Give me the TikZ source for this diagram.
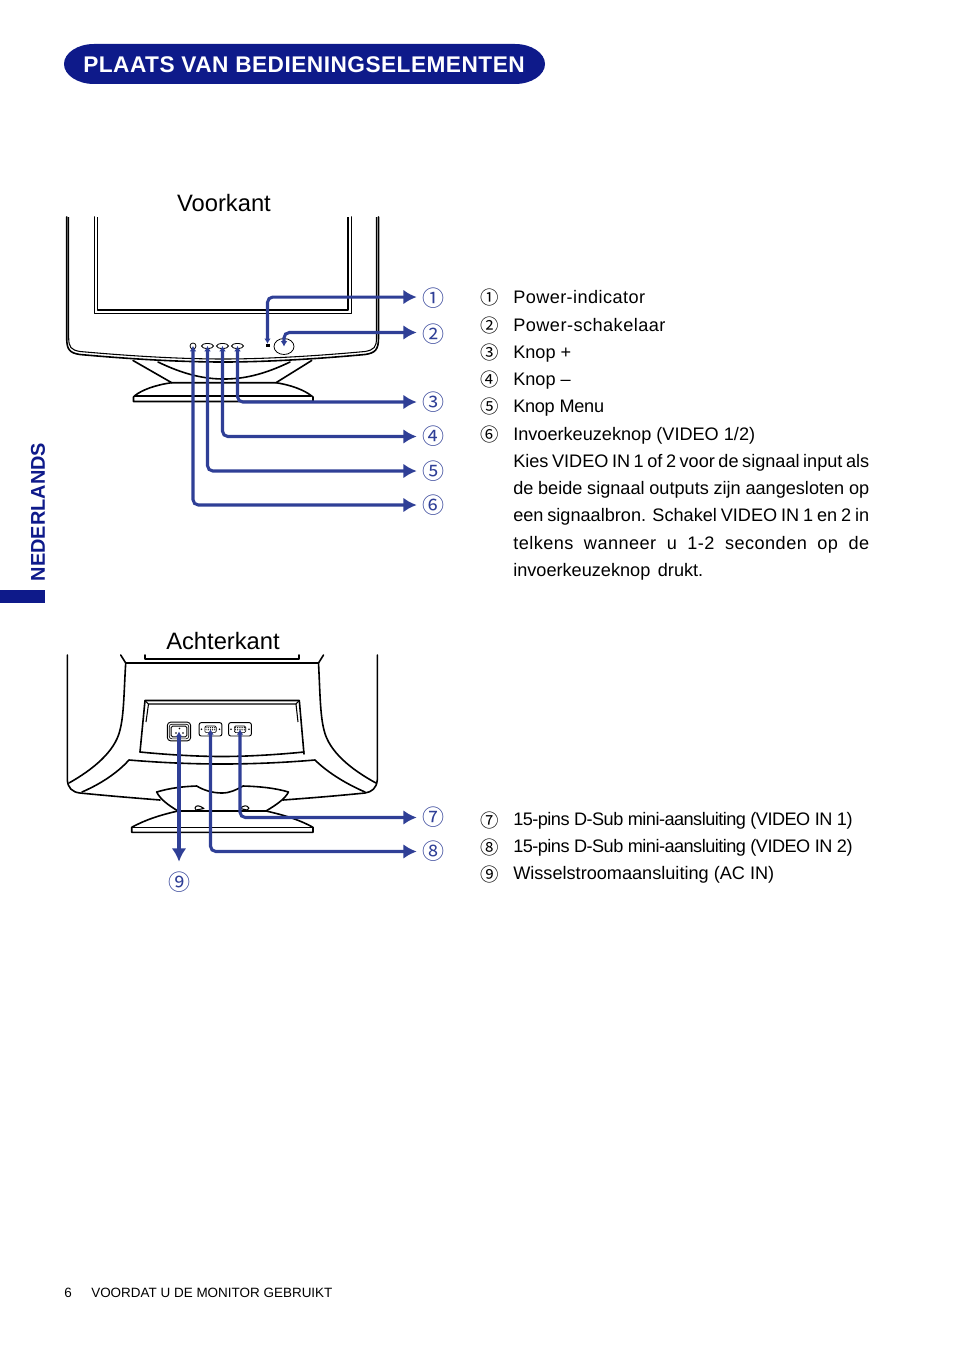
\documentclass[tikz,border=0pt]{standalone}
\usepackage{fontspec}
\setmainfont{Liberation Sans}
\newfontfamily\circfont{Noto Sans CJK SC}
\usetikzlibrary{arrows.meta,shapes.geometric}
\definecolor{navy}{HTML}{0E1A8A}
\definecolor{conn}{HTML}{2F3F96}
\newcommand{\bodyfont}{\fontsize{13.6pt}{16pt}\selectfont}
\newcommand{\circnum}{\fontsize{13.8pt}{16pt}\selectfont\circfont}
\newcommand{\spaced}[2]{{\addfontfeature{LetterSpace=#1}#2}}
\newcommand{\dn}[1]{\raisebox{-0.8pt}{#1}}
\tikzset{
  x=0.75pt,y=-0.75pt,
  mono/.style={draw=black,line width=1.2pt,line join=round,line cap=round},
  thin mono/.style={draw=black,line width=0.8pt,line join=round},
  connector/.style={draw=conn,line width=2.3pt,rounded corners=4pt,
    {Latex[length=4pt,width=5pt]}-{Latex[length=10pt,width=11pt]}},
  numlabel/.style={inner sep=0pt,minimum width=24pt,minimum height=30pt,text=conn,font=\fontsize{16.5pt}{17pt}\selectfont\circfont},
  itemnum/.style={inner sep=0pt,anchor=center,font=\circnum},
  itemtext/.style={inner sep=0pt,anchor=base west,font=\bodyfont},
  heading/.style={inner sep=0pt,font=\fontsize{17.8pt}{20pt}\selectfont},
  btn/.style={draw=black,line width=0.6pt,ellipse,inner sep=0pt},
  pin/.style={fill=black,circle,inner sep=0pt,minimum size=1.3pt},
}
\begin{document}
\begin{tikzpicture}
\useasboundingbox (0,0) rectangle (954,1352);
% title
\fill[navy] (94,44) -- (515,44) .. controls (531.5,44) and (545,53) .. (545,64) .. controls (545,75) and (531.5,84) .. (515,84) -- (94,84) .. controls (77.5,84) and (64,75) .. (64,64) .. controls (64,53) and (77.5,44) .. (94,44) -- cycle;
\node[text=white,inner sep=0pt,font=\fontsize{17pt}{20pt}\selectfont\bfseries] (titletext) at (304,65) {\spaced{2.1}{PLAATS VAN BEDIENINGSELEMENTEN}};
% side tab
\fill[navy] (0,590) rectangle (45,603);
\node[rotate=90,text=navy,inner sep=0pt,font=\fontsize{14.95pt}{16pt}\selectfont\bfseries] (side) at (38,512) {NEDERLANDS};
% headings
\node[heading] (front) at (224,203) {Voorkant};
\node[heading] (back) at (223,641) {Achterkant};
% ---- front monitor
\draw[mono] (66.7,217) -- (66.7,338) .. controls (66.7,350) and (70,353) .. (80,354.5) .. controls (130,359) and (180,362) .. (223,362) .. controls (266,362) and (316,359) .. (365,354.5) .. controls (375,353) and (378.5,350) .. (378.5,338) -- (378.5,217);
\draw[thin mono] (68.7,217) -- (68.7,338) .. controls (68.7,347) and (71,350) .. (80,351.5) .. controls (130,356) and (180,359) .. (223,359) .. controls (266,359) and (316,356) .. (365,351.5) .. controls (374,350) and (376.5,347) .. (376.5,338) -- (376.5,217);
\draw[mono] (94.5,217) -- (94.5,313.5) -- (351.5,313.5) -- (351.5,217);
\draw[thin mono] (97.7,217) -- (97.7,310) -- (348,310) -- (348,217);
% front stand
\draw[mono] (133,360.5) -- (171.7,382.7) -- (276,382.7) -- (311.7,360.5);
\draw[mono] (158,362) .. controls (185,375) and (205,379) .. (224,379) .. controls (243,379) and (263,375) .. (290,362);
\draw[mono] (171.7,382.7) .. controls (155,385) and (142,390) .. (135,395.5) -- (133.5,397) -- (133.5,401.5) -- (313,401.5) -- (313,397) -- (311,395.5) .. controls (304,390) and (291,385) .. (276,382.7);
\draw[thin mono] (135,396) -- (311,396);
% front controls
\node[btn,circle,minimum size=4.5pt] (b6) at (193,346) {};
\node[btn,minimum width=9pt,minimum height=3.8pt] (b5) at (207.5,346) {};
\node[btn,minimum width=9pt,minimum height=3.8pt] (b4) at (222.5,346) {};
\node[btn,minimum width=9pt,minimum height=3.8pt] (b3) at (237.5,346) {};
\node[fill=black,inner sep=0pt,minimum width=3pt,minimum height=1.8pt] (led) at (267.5,345.3) {};
\node[btn,minimum width=15pt,minimum height=12pt] (pow) at (284,346.5) {};
% labels
\node[numlabel] (l1) at (433,298.5) {\dn{①}};
\node[numlabel] (l2) at (433,334.5) {\dn{②}};
\node[numlabel] (l3) at (433,402) {\dn{③}};
\node[numlabel] (l4) at (433,436.5) {\dn{④}};
\node[numlabel] (l5) at (433,471) {\dn{⑤}};
\node[numlabel] (l6) at (433,505) {\dn{⑥}};
\node[numlabel] (l7) at (433,817.5) {\dn{⑦}};
\node[numlabel] (l8) at (433,851.5) {\dn{⑧}};
\node[numlabel] (l9) at (179,882) {\dn{⑨}};
% front connectors
\draw[connector] (led.north) |- ([yshift=1.1pt]l1.west);
\draw[connector] (pow.center) |- ([yshift=1.5pt]l2.west);
\draw[connector] (b3.center) |- (l3.west);
\draw[connector] (b4.center) |- (l4.west);
\draw[connector] (b5.center) |- (l5.west);
\draw[connector] (b6.center) |- (l6.west);
% ---- back monitor
\draw[mono] (67.3,655) -- (67.3,780) .. controls (68,788) and (72,792) .. (80,793) .. controls (110,796) and (135,798) .. (160,800);
\draw[mono] (377.3,655) -- (377.3,780) .. controls (376.5,788) and (372,792) .. (365,793) .. controls (335,796) and (310,798) .. (283,800);
\draw[mono] (120.7,655) -- (125.7,663) .. controls (124,690) and (124,715) .. (120,730) .. controls (115,752) and (92,770) .. (69,783);
\draw[mono] (323.5,655) -- (318.5,663) .. controls (320,690) and (320,715) .. (324,730) .. controls (329,752) and (352,770) .. (376,783);
\draw[thin mono] (125.7,663) -- (318.5,663);
\draw[mono] (145,655) -- (145,659) -- (299,659) -- (299,655);
% back panel
\draw[mono] (140,752) -- (145,700.5) -- (299.3,700.5) -- (304,754);
\draw[thin mono] (145,700.5) -- (148.5,704) -- (296,704) -- (299.3,700.5);
\draw[thin mono] (148.5,704) -- (146,722);
\draw[thin mono] (296,704) -- (298,722);
\draw[mono] (140,752) .. controls (170,755) and (200,756.5) .. (222,756.5) .. controls (244,756.5) and (274,755) .. (304,752);
\draw[mono] (82,792) .. controls (105,782) and (120,770) .. (129,760) .. controls (165,763) and (195,764) .. (222,764) .. controls (249,764) and (279,763) .. (315,760) .. controls (325,770) and (342,782) .. (365,792);
% back stand
\draw[mono] (178,811) .. controls (168,805) and (160,799) .. (156.7,792) .. controls (170,788) and (183,786.5) .. (196.7,786) .. controls (205,791) and (214,793) .. (222,793) .. controls (230,793) and (236,790) .. (243,786) .. controls (260,786.5) and (275,788) .. (288.5,792) .. controls (285,799) and (276,805) .. (266,811);
\draw[mono] (178,811) -- (266,811);
\draw[thin mono] (195,808) .. controls (196,805) and (199,805) .. (204,808.5) -- (196,810) -- cycle;
\draw[thin mono] (240,808.5) .. controls (244,805) and (247,805) .. (249,808) -- (247,810) -- cycle;
\draw[mono] (178,811) .. controls (160,815) and (145,820) .. (131.7,827.3) -- (131.7,832.3) -- (313,832.3) -- (313,827.3) .. controls (300,820) and (284,815) .. (266,811);
\draw[thin mono] (131.7,827.3) -- (313,827.3);
% back connector shapes
\node[draw=black,line width=0.7pt,rounded corners=2.5pt,minimum width=17.5pt,minimum height=14pt,inner sep=0pt] (ac) at (179,731.5) {};
\node[draw=black,line width=0.7pt,rounded corners=1pt,minimum width=11.7pt,minimum height=8pt,inner sep=0pt] at (ac.center) {};
\node[draw=black,line width=0.5pt,rounded corners=2pt,minimum width=14.7pt,minimum height=11pt,inner sep=0pt] at (ac.center) {};
\node[pin] at (179.5,728.5) {};
\node[pin] at (176,733) {};
\node[pin] at (183,733) {};
\node[draw=black,line width=0.7pt,rounded corners=1.5pt,minimum width=17pt,minimum height=10pt,inner sep=0pt] (d8) at (210.5,729.3) {};
\node[draw=black,line width=0.7pt,rounded corners=1.5pt,minimum width=17pt,minimum height=10pt,inner sep=0pt] (d7) at (240,729.3) {};
\node[draw=black,line width=0.5pt,rounded corners=1pt,minimum width=8.5pt,minimum height=5pt,inner sep=0pt] at (d8.center) {};
\node[draw=black,line width=0.5pt,rounded corners=1pt,minimum width=8.5pt,minimum height=5pt,inner sep=0pt] at (d7.center) {};
\foreach \dx in {201.5,219.5,231,249} \node[pin] at (\dx,729.3) {};
\foreach \dx in {206,208.2,210.4,212.6,214.8,235.5,237.7,239.9,242.1,244.3} {
  \node[pin,minimum size=1pt] at (\dx,727.7) {};
  \node[pin,minimum size=1pt] at (\dx,729.8) {};
}
% back connectors
\draw[connector] (d7.center) |- (l7.west);
\draw[connector] (d8.center) |- (l8.west);
\draw[connector] (ac.center) -- (l9.north);
% ---- item list
\node[itemnum] (n1) at (490,298) {①};
\node[itemnum] (n2) at (490,326) {②};
\node[itemnum] (n3) at (490,353) {③};
\node[itemnum] (n4) at (490,380) {④};
\node[itemnum] (n5) at (490,407) {⑤};
\node[itemnum] (n6) at (490,435) {⑥};
\node[itemtext] (t1) at (513,303) {\spaced{2.3}{Power-indicator}};
\node[itemtext] (t2) at (513,331) {\spaced{2.6}{Power-schakelaar}};
\node[itemtext] (t3) at (513,358) {Knop +};
\node[itemtext] (t4) at (513,385) {Knop –};
\node[itemtext] (t5) at (513,412) {\spaced{-1.5}{Knop Menu}};
\node[itemtext] (t6) at (513,440) {Invoerkeuzeknop (VIDEO 1/2)};
\node[itemtext] (p1) at (513,467) {\makebox[267pt][s]{Kies VIDEO IN 1 of 2 voor de signaal input als}};
\node[itemtext] (p2) at (513,494) {\makebox[267pt][s]{de beide signaal outputs zijn aangesloten op}};
\node[itemtext] (p3) at (513,521) {\makebox[267pt][s]{een signaalbron. Schakel VIDEO IN 1 en 2 in}};
\node[itemtext] (p4) at (513,549) {\makebox[267pt][s]{\addfontfeature{LetterSpace=2.5}telkens wanneer u 1-2 seconden op de}};
\node[itemtext] (p5) at (513,576) {\makebox[142.5pt][s]{invoerkeuzeknop drukt.}};
\node[itemnum] (n7) at (490,820) {⑦};
\node[itemnum] (n8) at (490,847) {⑧};
\node[itemnum] (n9) at (490,874) {⑨};
\node[itemtext] (t7) at (513,825) {\spaced{-2.9}{15-pins D-Sub mini-aansluiting (VIDEO IN 1)}};
\node[itemtext] (t8) at (513,852) {\spaced{-2.9}{15-pins D-Sub mini-aansluiting (VIDEO IN 2)}};
\node[itemtext] (t9) at (513,879) {Wisselstroomaansluiting (AC IN)};
% footer
\node[inner sep=0pt,anchor=base west,font=\fontsize{10.1pt}{12pt}\selectfont] (pg) at (64,1297) {6};
\node[inner sep=0pt,anchor=base west,font=\fontsize{10.1pt}{12pt}\selectfont] (foot) at (91,1297) {VOORDAT U DE MONITOR GEBRUIKT};
\end{tikzpicture}
\end{document}
